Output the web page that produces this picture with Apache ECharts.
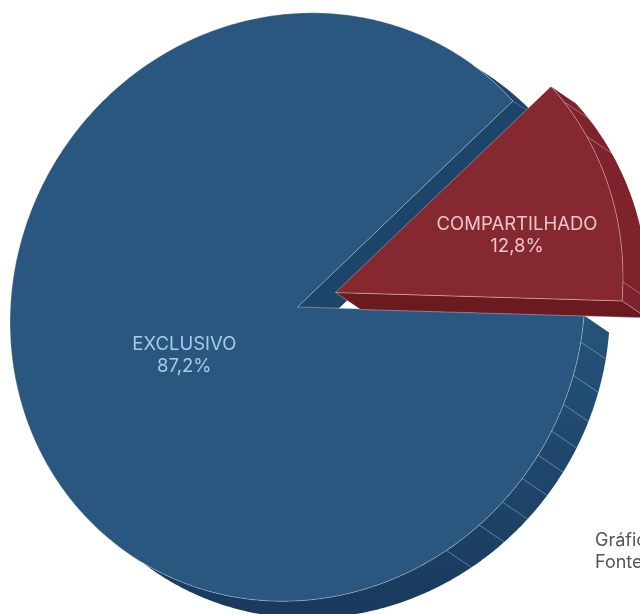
<!DOCTYPE html>
<html>
<head>
<meta charset="utf-8">
<style>html,body{margin:0;padding:0;background:#fff;overflow:hidden}#c{width:640px;height:614px}</style>
<script src="https://cdn.jsdelivr.net/npm/echarts@6/dist/echarts.min.js"></script>
</head>
<body>
<div id="c"></div>
<script>
// Share of each category, in percent
const categories = ['EXCLUSIVO', 'COMPARTILHADO'];
const shares = [87.2, 12.8];
const shareLabels = ['87,2%', '12,8%'];
const notes = ['Gráfico', 'Fonte:'];

// Where the thin divisions fall on each slice's side wall, in degrees on the disc
const wallDivisions = [
  [-8.3, -14.9, -20.8, -26.4, -31.7, -37.1, -43, -49.3, -57.3],
  [39, 30.6, 0.6]
];

// Tilted disc: centre, semi-axes, axis direction, wall depth
const CX = 297.5, CY = 307, A = 299, B = 282.5, AXIS = 57;
const DEPTH = [25, 17];
const START = -3.1;   // disc angle where the smaller slice begins
const EXPLODE = [[0, 0], [38, -14.5]];
const LABEL_R = [0.415, 0.655];
const LABEL_TURN = [0, -3];
const LABEL_DROP = 3.5;

const FACE = ['#2a577f', '#852830'];
const SIDE = ['#1d4569', '#6b1a20'];
const LABEL = ['#a9cbe6', '#ecc6cb'];
const EDGE = 'rgba(255,255,255,0.32)';
const RAD = Math.PI / 180;

// Projects a disc angle and radius fraction to the page
function project(deg, r, off) {
  const u = (deg - AXIS) * RAD, p = AXIS * RAD;
  const ca = A * r * Math.cos(u), cb = B * r * Math.sin(u);
  return [
    CX + off[0] + Math.cos(p) * ca - Math.sin(p) * cb,
    CY + off[1] - (Math.sin(p) * ca + Math.cos(p) * cb)
  ];
}
function arc(from, to, off) {
  const pts = [], n = Math.max(2, Math.ceil(Math.abs(to - from) * 2));
  for (let i = 0; i <= n; i++) pts.push(project(from + (to - from) * i / n, 1, off));
  return pts;
}
function shifted(pts) {
  return pts.map(p => [p[0] + DEPTH[0], p[1] + DEPTH[1]]);
}
function poly(points, fill, stroke) {
  return { type: 'polygon', shape: { points }, style: { fill, stroke: stroke || null, lineWidth: stroke ? 1 : 0 } };
}
function segmentLine(deg, off) {
  const a = project(deg, 1, off);
  return { type: 'line', shape: { x1: a[0], y1: a[1], x2: a[0] + DEPTH[0], y2: a[1] + DEPTH[1] }, style: { stroke: EDGE, lineWidth: 1 } };
}
function band(from, to, off, fill) {
  const a = arc(from, to, off);
  return poly(a.concat(shifted(a).reverse()), fill);
}

function renderSlice(params, api) {
  const i = params.dataIndex;
  const sweep = api.value(1) / 100 * 360;
  const off = EXPLODE[i];
  const [a0, a1] = i === 1 ? [START, START + sweep] : [START + 360 - sweep, START + 360];
  const apex = project(0, 0, off);
  const kids = [];

  if (i === 0) {
    const g = new echarts.graphic.LinearGradient(0, 320, 0, 610, [
      { offset: 0, color: '#25537a' }, { offset: 1, color: '#193a5d' }
    ], true);
    // outer wall below the gap and the short stretch above it
    kids.push(band(a0, a0 + 16, off, '#1d4569'));
    kids.push(band(START, START - 125, off, g));
    // cut wall seen through the gap
    const e = project(a0, 1, off);
    kids.push(poly([apex, e, [e[0] + DEPTH[0], e[1] + DEPTH[1]], [apex[0] + DEPTH[0], apex[1] + DEPTH[1]]], SIDE[0]));
  } else {
    kids.push(band(a0, a1, off, '#7e232b'));
    const e = project(a0, 1, off);
    kids.push(poly([apex, e, [e[0] + DEPTH[0], e[1] + DEPTH[1]], [apex[0] + DEPTH[0], apex[1] + DEPTH[1]]], SIDE[1], EDGE));
  }
  wallDivisions[i].forEach(d => kids.push(segmentLine(d, off)));

  // top face
  kids.push(poly([apex].concat(arc(a0, a1, off)), FACE[i], EDGE));

  // category and share, stacked near the slice's middle angle
  const mid = project((a0 + a1) / 2 + LABEL_TURN[i], LABEL_R[i], off);
  const fontFamily = 'Inter, Lato, sans-serif';
  [[api.value(0), -11], [shareLabels[i], 11]].forEach(([text, dy]) => {
    kids.push({
      type: 'text',
      style: { text, x: mid[0], y: mid[1] + dy + LABEL_DROP, align: 'center', verticalAlign: 'middle',
        fill: LABEL[i], fontSize: 18.5, fontWeight: 400, fontFamily }
    });
  });
  return { type: 'group', children: kids };
}

const chart = echarts.init(document.getElementById('c'), null, { renderer: 'canvas' });
chart.setOption({
  animation: false,
  backgroundColor: '#fff',
  graphic: notes.map((text, i) => ({
    type: 'text', left: 595, top: 532 + i * 22,
    style: { text, fill: '#555', fontSize: 18, fontWeight: 400, fontFamily: 'Inter, Lato, sans-serif' }
  })),
  series: [{
    type: 'custom',
    coordinateSystem: 'none',
    renderItem: renderSlice,
    clip: false,
    data: categories.map((c, i) => [c, shares[i]])
  }]
});
</script>
</body>
</html>
